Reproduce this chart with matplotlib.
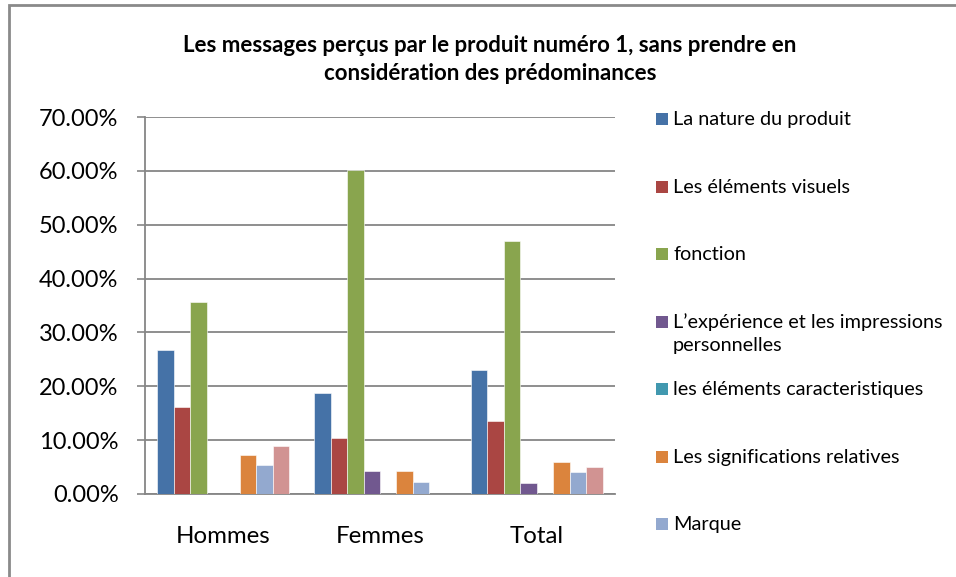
import numpy as np
import matplotlib.pyplot as plt
from matplotlib.patches import Rectangle

plt.rcParams['font.family'] = ['Lato', 'DejaVu Sans']

groups = ['Hommes', 'Femmes', 'Total']
series = ['La nature du produit', 'Les éléments visuels', 'fonction',
          'L\u2019expérience et les impressions\npersonnelles',
          'les éléments caracteristiques', 'Les significations relatives',
          'Marque', 'Autre']
values = [
    [0.267, 0.187, 0.230],
    [0.162, 0.104, 0.135],
    [0.357, 0.602, 0.470],
    [0.000, 0.043, 0.020],
    [0.000, 0.000, 0.000],
    [0.072, 0.042, 0.059],
    [0.054, 0.022, 0.040],
    [0.089, 0.000, 0.050],
]
colors = ['#4572A7', '#AA4643', '#89A54E', '#71588F', '#4198AF',
          '#DB843D', '#93A9CF', '#D19392']
yticks = [0, 0.1, 0.2, 0.3, 0.4, 0.5, 0.6, 0.7]

fig = plt.figure(figsize=(9.56, 5.77), dpi=100)
ax = fig.add_axes([145/956, 1-494/577, 470/956, 377/577])

x = np.arange(len(groups))
w = 1/9.5
for i, vals in enumerate(values):
    ax.bar(x + (i - 3.5)*w, vals, w, color=colors[i],
           edgecolor='white', linewidth=0.4, zorder=3)

ax.set_xlim(-0.5, 2.5)
ax.set_ylim(0, 0.7)
ax.set_yticks(yticks)
ax.set_yticklabels(['{:.2f}%'.format(v*100) for v in yticks], fontsize=17)
ax.set_xticks(x)
ax.set_xticklabels(groups, fontsize=17.3)
ax.tick_params(axis='y', direction='out', length=6, width=1.2,
               color='#868686', pad=13)
ax.tick_params(axis='x', length=0, pad=23)
ax.grid(axis='y', color='#868686', linewidth=1.3, zorder=0)
for s in ['top', 'right']:
    ax.spines[s].set_visible(False)
for s in ['left', 'bottom']:
    ax.spines[s].set_color('#868686')
    ax.spines[s].set_linewidth(1.3)

fig.text(490/956, 1-45/577,
         'Les messages perçus par le produit numéro 1, sans prendre en',
         ha='center', va='center', fontsize=16, fontweight='bold')
fig.text(490/956, 1-73/577, 'considération des prédominances',
         ha='center', va='center', fontsize=16, fontweight='bold')

# legend (the last series falls outside the chart frame)
for i, name in enumerate(series[:7]):
    yc = 119 + i*67.5
    fig.patches.append(Rectangle((656/956, 1-(yc+6)/577), 12/956, 12/577,
                                 transform=fig.transFigure,
                                 facecolor=colors[i], edgecolor='none'))
    fig.text(673/956, 1-(yc-8)/577, name, ha='left', va='top',
             fontsize=14.3, linespacing=1.4)

# chart frame
fig.patches.append(Rectangle((9/956, -0.05), 1.1, 1-5/577+0.05,
                             transform=fig.transFigure, facecolor='none',
                             edgecolor='#8a8a8a', linewidth=2))

fig.savefig('out.png', dpi=100)
